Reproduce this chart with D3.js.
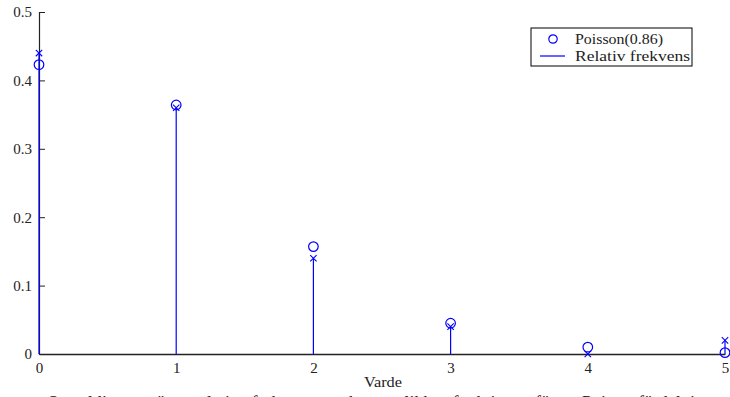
<!DOCTYPE html>
<html>
<head>
<meta charset="utf-8">
<script src="https://cdn.jsdelivr.net/npm/d3@7"></script>
<style>
  html, body { margin: 0; padding: 0; background: #fff; overflow: hidden; }
  svg { display: block; }
  text { font-family: "Liberation Serif", "DejaVu Serif", serif; fill: #222; }
</style>
</head>
<body>
<svg id="chart" width="730" height="397"></svg>
<script>
// Observed values 0..5
const values = [0, 1, 2, 3, 4, 5];
// Relative frequency of each value (stems with cross markers)
const relFreq = [0.44, 0.36, 0.14, 0.04, 0.0, 0.02];
// Poisson(0.86) probabilities (circle markers)
const poisson = [0.423, 0.364, 0.157, 0.045, 0.010, 0.002];
const yTicks = [0, 0.1, 0.2, 0.3, 0.4, 0.5];
const xTicks = [0, 1, 2, 3, 4, 5];
const legendLabels = ["Poisson(0.86)", "Relativ frekvens"];
const xLabel = "Varde";
const caption = "Stapeldiagram över relativa frekvenser och sannolikhetsfunktionen för en Poissonfördelning";

const blue = "#0000ff";
const svg = d3.select("#chart");

const x = d3.scaleLinear().domain([0, 5]).range([39, 725]);
const y = d3.scaleLinear().domain([0, 0.5]).range([354, 12]);

// Y axis: ticks pointing inward
const yAxis = d3.axisRight(y).tickValues(yTicks).tickSize(6)
  .tickFormat(d => d === 0 ? "0" : d3.format(".1f")(d));
const gy = svg.append("g").attr("transform", `translate(${x(0)},0)`).call(yAxis)
  .attr("font-family", "Liberation Serif, serif");
gy.select(".domain").attr("stroke", "#222").attr("stroke-width", 1.2);
gy.selectAll(".tick line").attr("stroke", "#222");
gy.selectAll(".tick text").attr("x", -7).attr("text-anchor", "end")
  .attr("font-size", 15).attr("fill", "#222");

// X axis: labels only, no tick marks
const xAxis = d3.axisBottom(x).tickValues(xTicks).tickSize(0).tickFormat(d3.format("d"));
const gx = svg.append("g").attr("transform", `translate(0,${y(0)})`).call(xAxis)
  .attr("font-family", "Liberation Serif, serif");
gx.select(".domain").attr("stroke", "#222").attr("stroke-width", 1.5);
gx.selectAll(".tick text").attr("y", 8).attr("font-size", 15).attr("fill", "#222");

// Stems for relative frequency
const data = values.map((v, i) => ({ v, f: relFreq[i], p: poisson[i] }));
svg.append("g").selectAll("line").data(data).join("line")
  .attr("x1", d => x(d.v)).attr("x2", d => x(d.v))
  .attr("y1", y(0)).attr("y2", d => y(d.f))
  .attr("stroke", blue).attr("stroke-width", 1.2);

// Cross markers at stem tops
const cs = 3.2;
const crosses = svg.append("g").selectAll("g").data(data).join("g")
  .attr("transform", d => `translate(${x(d.v)},${y(d.f)})`);
crosses.append("path")
  .attr("d", `M${-cs},${-cs}L${cs},${cs}M${-cs},${cs}L${cs},${-cs}`)
  .attr("stroke", blue).attr("stroke-width", 1.1).attr("fill", "none");

// Poisson circles
svg.append("g").selectAll("circle").data(data).join("circle")
  .attr("cx", d => x(d.v)).attr("cy", d => y(d.p)).attr("r", 4.8)
  .attr("fill", "none").attr("stroke", blue).attr("stroke-width", 1.2);

// X label
svg.append("text").attr("x", 383).attr("y", 387)
  .attr("text-anchor", "middle").attr("font-size", 14)
  .attr("textLength", 38).attr("lengthAdjust", "spacingAndGlyphs").text(xLabel);

// Caption below the figure, partly beyond the bottom edge
svg.append("text").attr("x", 48).attr("y", 409)
  .attr("font-size", 19).attr("textLength", 665).attr("lengthAdjust", "spacingAndGlyphs")
  .text(caption);

// Legend
const lg = svg.append("g").attr("transform", "translate(531,28)");
lg.append("rect").attr("width", 161).attr("height", 38)
  .attr("fill", "#fff").attr("stroke", "#000").attr("stroke-width", 1);
lg.append("circle").attr("cx", 22).attr("cy", 11).attr("r", 4.2)
  .attr("fill", "none").attr("stroke", blue).attr("stroke-width", 1.2);
lg.append("line").attr("x1", 9).attr("x2", 34).attr("y1", 28).attr("y2", 28)
  .attr("stroke", blue).attr("stroke-width", 1.2);
lg.append("text").attr("x", 44).attr("y", 16).attr("font-size", 15)
  .attr("textLength", 88).attr("lengthAdjust", "spacingAndGlyphs").text(legendLabels[0]);
lg.append("text").attr("x", 44).attr("y", 33).attr("font-size", 15)
  .attr("textLength", 115).attr("lengthAdjust", "spacingAndGlyphs").text(legendLabels[1]);
</script>
</body>
</html>
